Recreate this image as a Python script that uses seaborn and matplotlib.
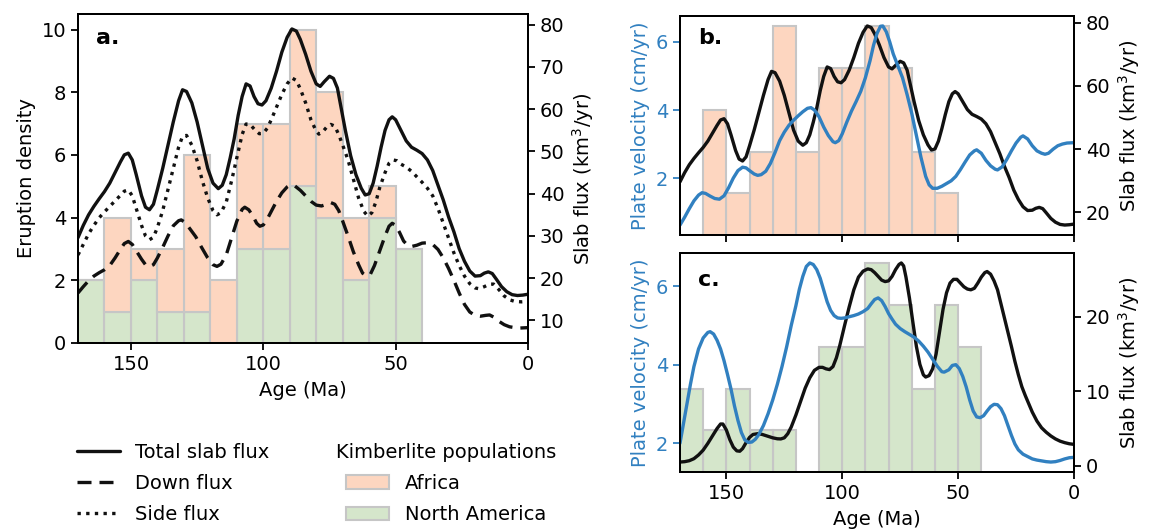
import numpy as np
import pandas as pd
import matplotlib
matplotlib.use("Agg")
import matplotlib.pyplot as plt
import seaborn as sns
from matplotlib.lines import Line2D
from matplotlib.patches import Patch

# ---------------- data ----------------
bin_edges = [40, 50, 60, 70, 80, 90, 100, 110, 120, 130, 140, 150, 160, 170]
bin_centers = [165, 155, 145, 135, 125, 115, 105, 95, 85, 75, 65, 55, 45]
africa_counts = [0, 3, 1, 2, 5, 2, 4, 4, 5, 4, 2, 1, 0]
na_counts = [2, 1, 2, 1, 1, 0, 3, 3, 5, 4, 2, 4, 3]

total_age = [170, 168, 166, 164, 162, 160, 158, 156, 154, 152.5, 151, 149.5, 148, 146, 144.5,
             143, 141.5, 140, 138, 136, 134, 132, 130.5, 129, 127, 125, 123, 121, 119, 117,
             115.5, 114, 112.5, 111, 109.5, 108, 106.5, 105, 103.5, 102, 100.5, 99, 97, 95,
             93, 91, 89.2, 87.5, 86, 84, 82, 80, 78.5, 77, 75, 73.5, 72, 70.5, 69, 67, 65,
             63, 61.5, 60, 58.5, 57, 55.5, 54, 52.5, 51.3, 50, 48, 46, 44, 42, 40, 38, 36,
             34, 32, 30, 28, 26, 24, 22, 20, 18, 16.5, 15, 13.5, 12, 10, 8, 6, 4, 2, 0]
total_flux = [29.6, 32.5, 35, 37, 38.8, 40.5, 42.5, 45, 47.5, 49.2, 49.6, 48, 44.5, 39.5, 36.8,
              36.2, 37.5, 41, 46, 51.5, 57, 62, 64.6, 64.2, 61.5, 57, 51.5, 46, 42.5, 41.2,
              42, 44.5, 48.5, 53, 58.5, 63, 66, 65.5, 63, 61.3, 61, 62, 65, 69,
              73.5, 77, 79, 78.5, 76.5, 73, 69, 66, 65.4, 66.5, 67.8, 67.3, 65, 60, 55, 49, 44.5,
              41.3, 39.7, 40, 42.5, 46.5, 51, 55, 57.5, 58.2, 57.5, 55, 52.5, 51, 50.3, 49.5, 48, 45.5,
              42, 38.5, 34.5, 31, 27, 24, 21.7, 20.5, 20.6, 21.2, 21.5, 21.1, 19.8, 18, 16.8, 16.1, 15.9, 16.0, 16.2]

side_age = [170, 168, 166, 164, 162, 160, 158, 156, 154, 152.5, 151, 149.5, 148, 146, 144.5,
            143, 141.5, 140, 138, 136, 134, 132, 130.5, 129, 127, 125, 123, 121, 119, 117.5,
            116, 114, 112, 110, 108, 106.5, 105, 103, 101.5, 100, 98.5, 97, 95, 93, 91,
            89.2, 87.5, 86, 84, 82, 80, 79, 77.5, 76, 74.5, 73, 71.5, 70, 68, 66, 64, 62,
            60.5, 59, 57.5, 56, 54, 52.5, 51, 49.5, 48, 46, 44, 42, 40, 38, 36, 34, 32, 30,
            28, 26, 24, 22, 20, 18.5, 16.5, 14.5, 13, 11, 9, 7, 5, 2.5, 0]
side_flux = [25.5, 28, 30.5, 32.5, 34.3, 35.7, 37, 38.3, 39.6, 40.6, 40.9, 39.5, 36.5, 32.5, 30,
             29.1, 29.7, 32, 36, 41, 46, 51, 53.6, 53.8, 51.5, 47.8, 43, 39, 36, 35,
             35.5, 38, 43, 48.5, 54, 56.5, 56.4, 55, 54.2, 54.3, 55.5, 57.5, 60.5, 63.5, 66,
             67.4, 66.8, 64.8, 61.5, 57.5, 54.8, 54.1, 54.7, 55.8, 56.4, 56, 54, 51.5, 48, 43.5, 39, 35.8,
             34.7, 35.5, 38, 41.5, 45, 47.2, 48, 47.8, 47, 46.3, 45.3, 44, 42.7, 41.3, 39.5, 36.5, 33, 29.5,
             26, 23, 20.5, 18.7, 17.7, 17.5, 18, 18.6, 18.6, 17.3, 15.8, 14.9, 14.5, 14.4, 14.5]

down_age = [170, 168, 166, 164, 162, 160, 158, 156, 154, 152.5, 151, 149.5, 148, 146, 144.5,
            143, 141.5, 140, 138, 136, 134, 132, 131, 129.5, 127.5, 125.5, 123.5, 121, 119,
            117.5, 116, 114, 112, 110, 108, 107, 105.5, 104, 102.5, 101.3, 100, 98.5, 97, 95,
            93, 91, 89.7, 88, 86, 84, 82, 80, 78, 76, 74.5, 73, 71.5, 70, 68, 66, 64, 62.5,
            61, 59.5, 58, 56, 54, 52.5, 51.3, 50, 48.5, 47, 45.5, 44, 42, 40, 38, 36, 34, 32,
            30, 28, 26, 24, 22, 20, 18, 16, 14.5, 13, 11, 9, 7, 5, 3, 0]
down_flux = [16.5, 18, 19.4, 20.5, 21.3, 22, 23, 24.8, 26.8, 28.2, 28.7, 28, 26.5, 24.5, 23.2,
             22.7, 23.2, 24.8, 27.3, 30, 32.4, 33.6, 33.8, 33.2, 31.5, 29.8, 27.5, 24.8, 23.2,
             22.8, 23.3, 25.5, 29.5, 33.5, 36.3, 36.8, 36.2, 34.8, 33, 32.3, 32.6, 34, 35.8, 38.2,
             40.2, 41.6, 42.1, 41.8, 40.8, 39.5, 38.2, 37.3, 37.1, 37.5, 37.9, 37.5, 36, 33.5, 30, 26.3, 23.2, 21.2,
             20.5, 21, 23, 26.5, 30, 32.3, 33, 32.5, 30.8, 28.8, 27.8, 27.5, 27.8, 28.3, 28.4, 28, 26.8, 24.8,
             22.3, 19.5, 16.5, 13.8, 12, 11.2, 11, 11.2, 11.3, 10.8, 9.8, 9, 8.5, 8.3, 8.2, 8.3]

vel_b_age = [170, 168, 166, 164, 162, 160.5, 159, 157, 155, 153, 151, 149, 147, 145, 143, 141.5,
             140, 138, 136.5, 135, 133, 131, 129, 127, 125, 123, 121, 119, 117, 115, 113.5, 112,
             110, 108, 106, 104, 103, 101.5, 100, 98, 96, 94, 92, 90, 88, 86.5, 85, 83.5, 82.5,
             81, 79.5, 78, 76, 74, 72, 70, 68, 66, 64, 62.5, 61, 59, 57, 55, 53, 51, 49, 47,
             45, 43, 42, 40, 38, 36, 34, 33, 31, 29, 27, 25, 23, 22, 20, 18, 16, 14, 12.5, 11,
             9, 7, 5, 3, 0]
vel_b = [0.62, 0.85, 1.1, 1.33, 1.5, 1.57, 1.55, 1.47, 1.4, 1.38, 1.48, 1.72, 2.0, 2.22, 2.32, 2.3,
         2.22, 2.12, 2.08, 2.1, 2.2, 2.43, 2.75, 3.1, 3.35, 3.55, 3.7, 3.83, 3.95, 4.05, 4.07, 4.0,
         3.8, 3.5, 3.25, 3.07, 3.04, 3.1, 3.3, 3.65, 3.97, 4.25, 4.55, 4.95, 5.45, 5.9, 6.25, 6.46, 6.47,
         6.3, 6.0, 5.65, 5.3, 4.95, 4.45, 3.9, 3.25, 2.6, 2.05, 1.8, 1.7, 1.7, 1.76, 1.84, 1.92, 2.05, 2.25, 2.47,
         2.68, 2.8, 2.83, 2.73, 2.52, 2.36, 2.26, 2.24, 2.33, 2.55, 2.8, 3.03, 3.2, 3.24, 3.15, 2.95, 2.8, 2.73, 2.7, 2.73,
         2.85, 2.95, 3.0, 3.03, 3.04]

vel_c_age = [170, 168.5, 167, 165.5, 164, 162, 160, 158, 157, 155.5, 154, 152.5, 151, 149.5, 148,
             146.5, 145, 143.5, 142, 140.5, 139, 137.5, 136, 134, 132, 130, 128, 126, 124, 122,
             120, 118.5, 117, 115.5, 114, 112.5, 111, 109.5, 108, 106.5, 105, 103.5, 102, 100.5,
             99, 97, 95, 93, 91, 89, 87.5, 86, 84.5, 83, 81.5, 80, 78.5, 77, 75, 73, 71, 69, 67,
             65, 63, 61, 59, 57, 56, 54, 52.5, 51, 49.5, 48, 46.5, 45, 43.5, 42, 40.5, 39, 37.5,
             36, 34.5, 33, 31.5, 30, 28.5, 27, 25.5, 24, 22, 20, 18, 16, 14, 12, 10, 8, 6, 4, 2, 0]
vel_c = [2.0, 2.5, 3.0, 3.5, 3.95, 4.4, 4.68, 4.82, 4.84, 4.78, 4.62, 4.4, 4.1, 3.75, 3.38,
         2.95, 2.58, 2.27, 2.08, 2.02, 2.03, 2.1, 2.22, 2.45, 2.75, 3.1, 3.5, 3.95, 4.45, 5.0,
         5.5, 5.92, 6.25, 6.5, 6.59, 6.55, 6.42, 6.2, 5.9, 5.6, 5.38, 5.25, 5.19, 5.18,
         5.19, 5.22, 5.25, 5.29, 5.35, 5.43, 5.55, 5.66, 5.7, 5.63, 5.48, 5.3, 5.16, 5.03, 4.92, 4.84, 4.77, 4.7, 4.6,
         4.47, 4.32, 4.14, 3.96, 3.82, 3.81, 3.87, 3.98, 4.0, 3.9, 3.7, 3.43, 3.1, 2.82, 2.67, 2.65, 2.7, 2.82,
         2.93, 2.99, 2.98, 2.88, 2.7, 2.45, 2.2, 1.98, 1.83, 1.72, 1.66, 1.6, 1.57, 1.55, 1.53, 1.52, 1.53, 1.56, 1.6, 1.63, 1.64]

flux_c_age = [170, 168, 166, 164, 162, 160, 158, 156, 154, 152.5, 151.5, 150, 148.5, 147, 145.5,
              144.2, 143, 141.5, 140, 138.5, 136.5, 134.5, 132, 130, 128, 126.5, 125, 123.5, 122,
              120, 118, 116, 114, 112, 110, 108.5, 107, 105.5, 104, 102.5, 101, 99, 97, 95, 93,
              91, 89, 87.5, 86, 84.5, 83, 81.5, 80, 78.5, 77, 75.5, 74.5, 73.5, 72.5, 71, 69.5,
              68, 66.5, 65, 64, 62.5, 61, 59.5, 58, 56.5, 55, 53.5, 52, 50.5, 49, 47.5, 46, 44.5,
              43, 41.5, 40, 38.5, 37.5, 36, 34.5, 33, 31.5, 30, 28.5, 27, 25.5, 24, 22.5, 21,
              19.5, 18, 16, 14, 12, 10, 8, 6, 4, 2, 0]
flux_c = [0.5, 0.55, 0.68, 0.95, 1.45, 2.1, 3.0, 4.0, 5.0, 5.6, 5.6, 4.8, 3.5, 2.5, 2.0,
          1.95, 2.3, 3.1, 3.8, 4.2, 4.3, 4.2, 3.95, 3.75, 3.62, 3.6, 3.75, 4.3, 5.2,
          6.8, 8.6, 10.4, 11.8, 12.8, 13.2, 13.2, 13.0, 12.9, 13.3, 14.5, 16.2, 18.8, 21.3, 23.6, 25.3,
          26.1, 26.4, 26.3, 25.9, 25.4, 24.9, 24.7, 24.8, 25.4, 26.3, 27.0, 27.2, 26.8, 25.3, 22.5, 19.2,
          16.0, 13.6, 12.2, 11.9, 12.1, 13.0, 15.0, 18.0, 21.0, 23.2, 24.5, 25.0, 25.0, 24.5, 24.0, 23.7, 23.6,
          23.8, 24.5, 25.3, 25.9, 26.05, 25.7, 24.8, 23.6, 21.7, 19.8, 17.9, 16.0, 14.0, 12.2, 10.6, 9.4,
          8.3, 7.2, 6.0, 5.1, 4.5, 4.0, 3.6, 3.3, 3.1, 2.95, 2.87]

xticks = [150, 100, 50, 0]

# ---------------- style ----------------
sns.set_style("ticks")
plt.rcParams["font.family"] = ["DejaVu Sans"]
plt.rcParams.update({
    "font.size": 14, "axes.labelsize": 14, "xtick.labelsize": 14, "ytick.labelsize": 14,
    "axes.edgecolor": "black", "axes.linewidth": 1.4,
    "xtick.color": "black", "ytick.color": "black", "text.color": "black",
    "axes.labelcolor": "black",
    "xtick.major.size": 5, "ytick.major.size": 5,
    "xtick.major.width": 1.3, "ytick.major.width": 1.3,
    "lines.solid_capstyle": "round", "lines.solid_joinstyle": "round",
})

c_africa = "#fdd6c0"
c_na = "#d5e6cb"
c_edge = "#c6c6c6"
c_blue = "#3180c0"
c_black = "#111111"
LW = 2.4
dash_style = (0, (4.2, 2.4))
dot_style = (0, (1, 1.6))

fig = plt.figure(figsize=(11.6, 5.32), dpi=100)

pos_a = [78 / 1160, 1 - 343 / 532, 450 / 1160, 329 / 532]
pos_b = [680 / 1160, 1 - 235 / 532, 394 / 1160, 219 / 532]
pos_c = [680 / 1160, 1 - 472 / 532, 394 / 1160, 219 / 532]

hist_df = pd.DataFrame({
    "age": bin_centers * 2,
    "count": africa_counts + na_counts,
    "population": ["Africa"] * len(bin_centers) + ["North America"] * len(bin_centers),
})

# ---------------- panel a ----------------
ax_a = fig.add_axes(pos_a)
sns.histplot(data=hist_df, x="age", weights="count", hue="population",
             hue_order=["Africa", "North America"], multiple="stack", bins=bin_edges,
             palette={"Africa": c_africa, "North America": c_na}, alpha=1,
             edgecolor=c_edge, linewidth=1.5, legend=False, ax=ax_a)
ax_a.set_ylabel("Eruption density")
ax_a.set_xlabel("Age (Ma)", labelpad=5)
ax_a.set_yticks([0, 2, 4, 6, 8, 10])
ax_a2 = ax_a.twinx()
sns.lineplot(x=total_age, y=total_flux, ax=ax_a2, color=c_black, linewidth=LW, sort=False)
sns.lineplot(x=down_age, y=down_flux, ax=ax_a2, color=c_black, linewidth=LW, sort=False,
             linestyle=dash_style)
sns.lineplot(x=side_age, y=side_flux, ax=ax_a2, color=c_black, linewidth=LW, sort=False,
             linestyle=dot_style)
ax_a2.set_ylabel("Slab flux (km$^3$/yr)")
ax_a2.set_yticks([10, 20, 30, 40, 50, 60, 70, 80])
ax_a.set_xlim(170, 0)
ax_a.set_xticks(xticks)
ax_a.text(0.04, 0.927, "a.", transform=ax_a.transAxes, fontsize=16, fontweight="bold",
          va="center", ha="left")

# ---------------- panel b ----------------
ax_b = fig.add_axes(pos_b)
sns.histplot(x=bin_centers, weights=africa_counts, bins=bin_edges, color=c_africa, alpha=1,
             edgecolor=c_edge, linewidth=1.5, ax=ax_b)
ax_b.set_yticks([])
ax_b.set_ylabel("")
ax_b_flux = ax_b.twinx()
sns.lineplot(x=total_age, y=total_flux, ax=ax_b_flux, color=c_black, linewidth=LW, sort=False)
ax_b_flux.set_ylabel("Slab flux (km$^3$/yr)")
ax_b_flux.set_yticks([20, 40, 60, 80])
ax_b_vel = ax_b.twinx()
ax_b_vel.yaxis.tick_left()
ax_b_vel.yaxis.set_label_position("left")
sns.lineplot(x=vel_b_age, y=vel_b, ax=ax_b_vel, color=c_blue, linewidth=LW, sort=False)
ax_b_vel.set_ylabel("Plate velocity (cm/yr)", color=c_blue)
ax_b_vel.set_yticks([2, 4, 6])
ax_b_vel.tick_params(axis="y", colors=c_blue)
ax_b.set_xlim(170, 0)
ax_b.set_xticks(xticks)
ax_b.tick_params(axis="x", labelbottom=False)
ax_b.set_xlabel("")
ax_b.text(0.045, 0.90, "b.", transform=ax_b.transAxes, fontsize=16, fontweight="bold",
          va="center", ha="left")

# ---------------- panel c ----------------
ax_c = fig.add_axes(pos_c)
sns.histplot(x=bin_centers, weights=na_counts, bins=bin_edges, color=c_na, alpha=1,
             edgecolor=c_edge, linewidth=1.5, ax=ax_c)
ax_c.set_yticks([])
ax_c.set_ylabel("")
ax_c_flux = ax_c.twinx()
sns.lineplot(x=flux_c_age, y=flux_c, ax=ax_c_flux, color=c_black, linewidth=LW, sort=False)
ax_c_flux.set_ylabel("Slab flux (km$^3$/yr)")
ax_c_flux.set_yticks([0, 10, 20])
ax_c_vel = ax_c.twinx()
ax_c_vel.yaxis.tick_left()
ax_c_vel.yaxis.set_label_position("left")
sns.lineplot(x=vel_c_age, y=vel_c, ax=ax_c_vel, color=c_blue, linewidth=LW, sort=False)
ax_c_vel.set_ylabel("Plate velocity (cm/yr)", color=c_blue)
ax_c_vel.set_yticks([2, 4, 6])
ax_c_vel.tick_params(axis="y", colors=c_blue)
ax_c.set_xlim(170, 0)
ax_c.set_xticks(xticks)
ax_c.set_xlabel("Age (Ma)", labelpad=5)
ax_c.text(0.045, 0.877, "c.", transform=ax_c.transAxes, fontsize=16, fontweight="bold",
          va="center", ha="left")

for ax in (ax_a2, ax_b_flux, ax_b_vel, ax_c_flux, ax_c_vel):
    ax.set_xlabel("")

# ---------------- legends ----------------
line_handles = [
    Line2D([], [], color=c_black, lw=LW, label="Total slab flux"),
    Line2D([], [], color=c_black, lw=LW, linestyle=dash_style, label="Down flux"),
    Line2D([], [], color=c_black, lw=LW, linestyle=dot_style, label="Side flux"),
]
fig.legend(handles=line_handles, loc="upper left", bbox_to_anchor=(77 / 1160, 1 - 443 / 532),
           frameon=False, borderpad=0, borderaxespad=0, handlelength=2.2,
           handletextpad=0.8, labelspacing=0.62, fontsize=14)
patch_handles = [
    Patch(facecolor=c_africa, edgecolor=c_edge, lw=1.5, label="Africa"),
    Patch(facecolor=c_na, edgecolor=c_edge, lw=1.5, label="North America"),
]
fig.legend(handles=patch_handles, title="Kimberlite populations", loc="upper left",
           bbox_to_anchor=(336 / 1160, 1 - 443 / 532), frameon=False, borderpad=0,
           borderaxespad=0, handlelength=2.2, handletextpad=0.8, labelspacing=0.62,
           fontsize=14, title_fontsize=14)

fig.savefig("out.png", dpi=100)
